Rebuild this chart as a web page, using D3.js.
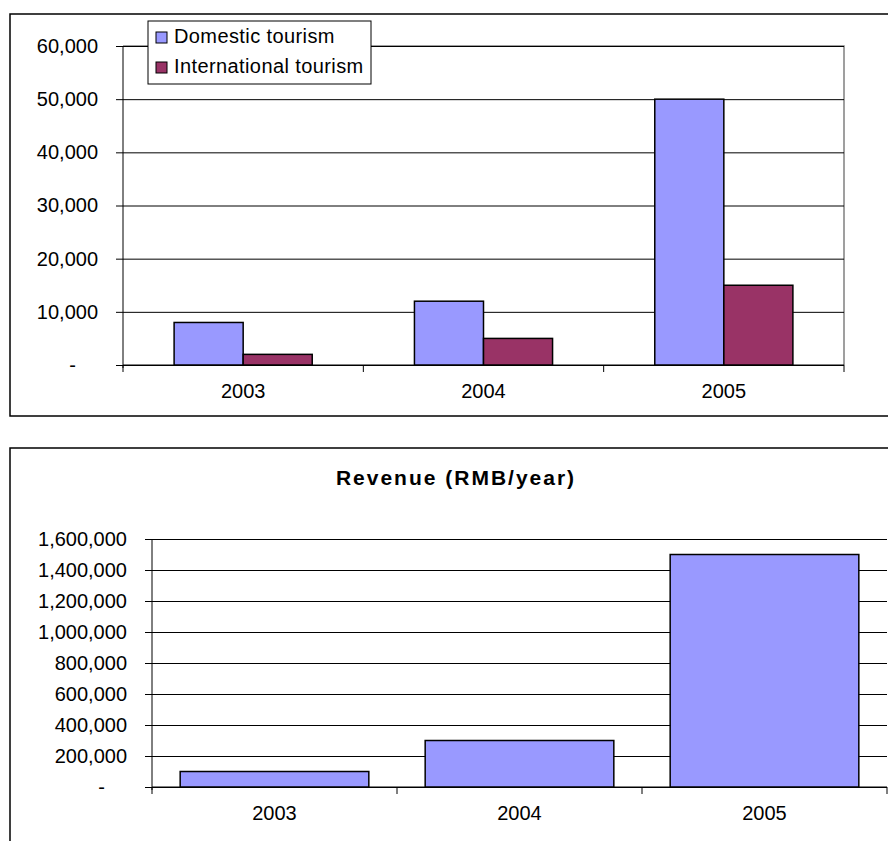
<!DOCTYPE html>
<html>
<head>
<meta charset="utf-8">
<script src="https://cdn.jsdelivr.net/npm/d3@7"></script>
<style>
  body { margin: 0; background: #fff; }
  svg text { font-family: Arial, "Liberation Sans", sans-serif; fill: #000; }
</style>
</head>
<body>
<div id="chart"></div>
<script>
// data
var years = ["2003", "2004", "2005"];
var seriesNames = ["Domestic tourism", "International tourism"];
var domestic = [8000, 12000, 50000];
var international = [2000, 5000, 15000];
var revenue = [100000, 300000, 1500000];
var visitorTicks = [0, 10000, 20000, 30000, 40000, 50000, 60000];
var revenueTicks = [0, 200000, 400000, 600000, 800000, 1000000, 1200000, 1400000, 1600000];
var revenueTitle = "Revenue (RMB/year)";
var colors = ["#9999ff", "#993366"];

var svg = d3.select("#chart").append("svg")
            .attr("width", 888)
            .attr("height", 841);

var fmt = function (d) { return d === 0 ? "-" : d3.format(",")(d); };

// outer frames (right / bottom edges run off the page)
svg.append("rect")
   .attr("x", 10).attr("y", 14)
   .attr("width", 900).attr("height", 402)
   .attr("fill", "none").attr("stroke", "#000").attr("stroke-width", 1.5);

svg.append("rect")
   .attr("x", 10).attr("y", 448)
   .attr("width", 900).attr("height", 420)
   .attr("fill", "none").attr("stroke", "#000").attr("stroke-width", 1.5);

// draws gridlines, y axis, x axis with boundary ticks
function drawFrame(g, x, y, ticks, left, right) {
  var top = y(d3.max(ticks)), bottom = y(0);

  g.append("g")
   .attr("transform", "translate(" + left + ",0)")
   .call(d3.axisLeft(y).tickValues(ticks).tickSize(-(right - left)).tickFormat(""))
   .call(function (a) {
     a.select(".domain").remove();
     a.selectAll("line").attr("stroke", "#000");
   });

  var yAxis = g.append("g")
   .attr("transform", "translate(" + left + ",0)")
   .call(d3.axisLeft(y).tickValues(ticks).tickSize(7).tickSizeOuter(0).tickPadding(18).tickFormat(fmt));
  yAxis.selectAll("text").attr("font-size", "20px").attr("font-family", null);
  yAxis.selectAll(".tick").filter(function (d) { return d === 0; })
       .select("text").attr("dx", -22);
  yAxis.select(".domain").attr("stroke", "#000").attr("d", "M0," + (bottom + 3) + "V" + top);

  var xAxis = g.append("g")
   .attr("transform", "translate(0," + bottom + ")")
   .call(d3.axisBottom(x).tickSize(0).tickPadding(19));
  xAxis.select(".domain").remove();
  xAxis.selectAll("text").attr("font-size", "20px").attr("font-family", null);

  g.append("line")
   .attr("x1", left).attr("x2", right)
   .attr("y1", bottom).attr("y2", bottom)
   .attr("stroke", "#000");

  var bounds = years.map(function (d) { return x(d); }).concat([x(years[years.length - 1]) + x.bandwidth()]);
  g.selectAll(".xtick").data(bounds).enter().append("line")
   .attr("class", "xtick")
   .attr("x1", function (d) { return d; }).attr("x2", function (d) { return d; })
   .attr("y1", bottom).attr("y2", bottom + 7)
   .attr("stroke", "#000");
}

// ---------- top chart: visitors ----------
var top1 = svg.append("g");
var x0 = d3.scaleBand().domain(years).range([123, 844]).padding(0);
var x1 = d3.scaleBand().domain(seriesNames).range([0, x0.bandwidth()]).paddingInner(0).paddingOuter(0.74);
var y0 = d3.scaleLinear().domain([0, 60000]).range([365, 46]);

// plot area border (grey top and right)
top1.append("path")
    .attr("d", "M" + x0.range()[0] + "," + y0(60000) + "H" + x0.range()[1] + "V" + y0(0))
    .attr("fill", "none").attr("stroke", "#808080").attr("stroke-width", 1.5);

drawFrame(top1, x0, y0, visitorTicks, 123, 844);

var visitorRows = years.map(function (yr, i) {
  return { year: yr, values: [domestic[i], international[i]] };
});

top1.selectAll(".grp").data(visitorRows).enter().append("g")
    .attr("class", "grp")
    .attr("transform", function (d) { return "translate(" + x0(d.year) + ",0)"; })
    .selectAll("rect")
    .data(function (d) { return d.values.map(function (v, j) { return { name: seriesNames[j], value: v, j: j }; }); })
    .enter().append("rect")
    .attr("x", function (d) { return x1(d.name); })
    .attr("y", function (d) { return y0(d.value); })
    .attr("width", x1.bandwidth())
    .attr("height", function (d) { return y0(0) - y0(d.value); })
    .attr("fill", function (d) { return colors[d.j]; })
    .attr("stroke", "#000")
    .attr("stroke-width", 1.5);

// legend
var legend = top1.append("g");
legend.append("rect")
      .attr("x", 148).attr("y", 21)
      .attr("width", 223).attr("height", 63)
      .attr("fill", "#fff").attr("stroke", "#000");

var items = legend.selectAll(".item").data(seriesNames).enter().append("g")
      .attr("class", "item")
      .attr("transform", function (d, i) { return "translate(156," + (32 + i * 30) + ")"; });
items.append("rect")
     .attr("width", 11).attr("height", 11)
     .attr("fill", function (d, i) { return colors[i]; })
     .attr("stroke", "#000");
items.append("text")
     .attr("x", 18).attr("y", 11)
     .attr("font-size", "20px")
     .attr("letter-spacing", "0.4px")
     .text(function (d) { return d; });

// ---------- bottom chart: revenue ----------
var bot = svg.append("g");
var xr = d3.scaleBand().domain(years).range([152, 887]).padding(0);
var xrBar = d3.scaleBand().domain(years).range([152, 887]).paddingInner(0.23).paddingOuter(0.115);
var yr = d3.scaleLinear().domain([0, 1600000]).range([787, 539]);

bot.append("text")
   .attr("x", 456).attr("y", 485)
   .attr("text-anchor", "middle")
   .attr("font-size", "21px")
   .attr("font-weight", "bold")
   .attr("letter-spacing", "2px")
   .text(revenueTitle);

drawFrame(bot, xr, yr, revenueTicks, 152, 887);

bot.selectAll(".bar").data(revenue).enter().append("rect")
   .attr("class", "bar")
   .attr("x", function (d, i) { return xrBar(years[i]); })
   .attr("y", function (d) { return yr(d); })
   .attr("width", xrBar.bandwidth())
   .attr("height", function (d) { return yr(0) - yr(d); })
   .attr("fill", colors[0])
   .attr("stroke", "#000")
   .attr("stroke-width", 1.5);
</script>
</body>
</html>
